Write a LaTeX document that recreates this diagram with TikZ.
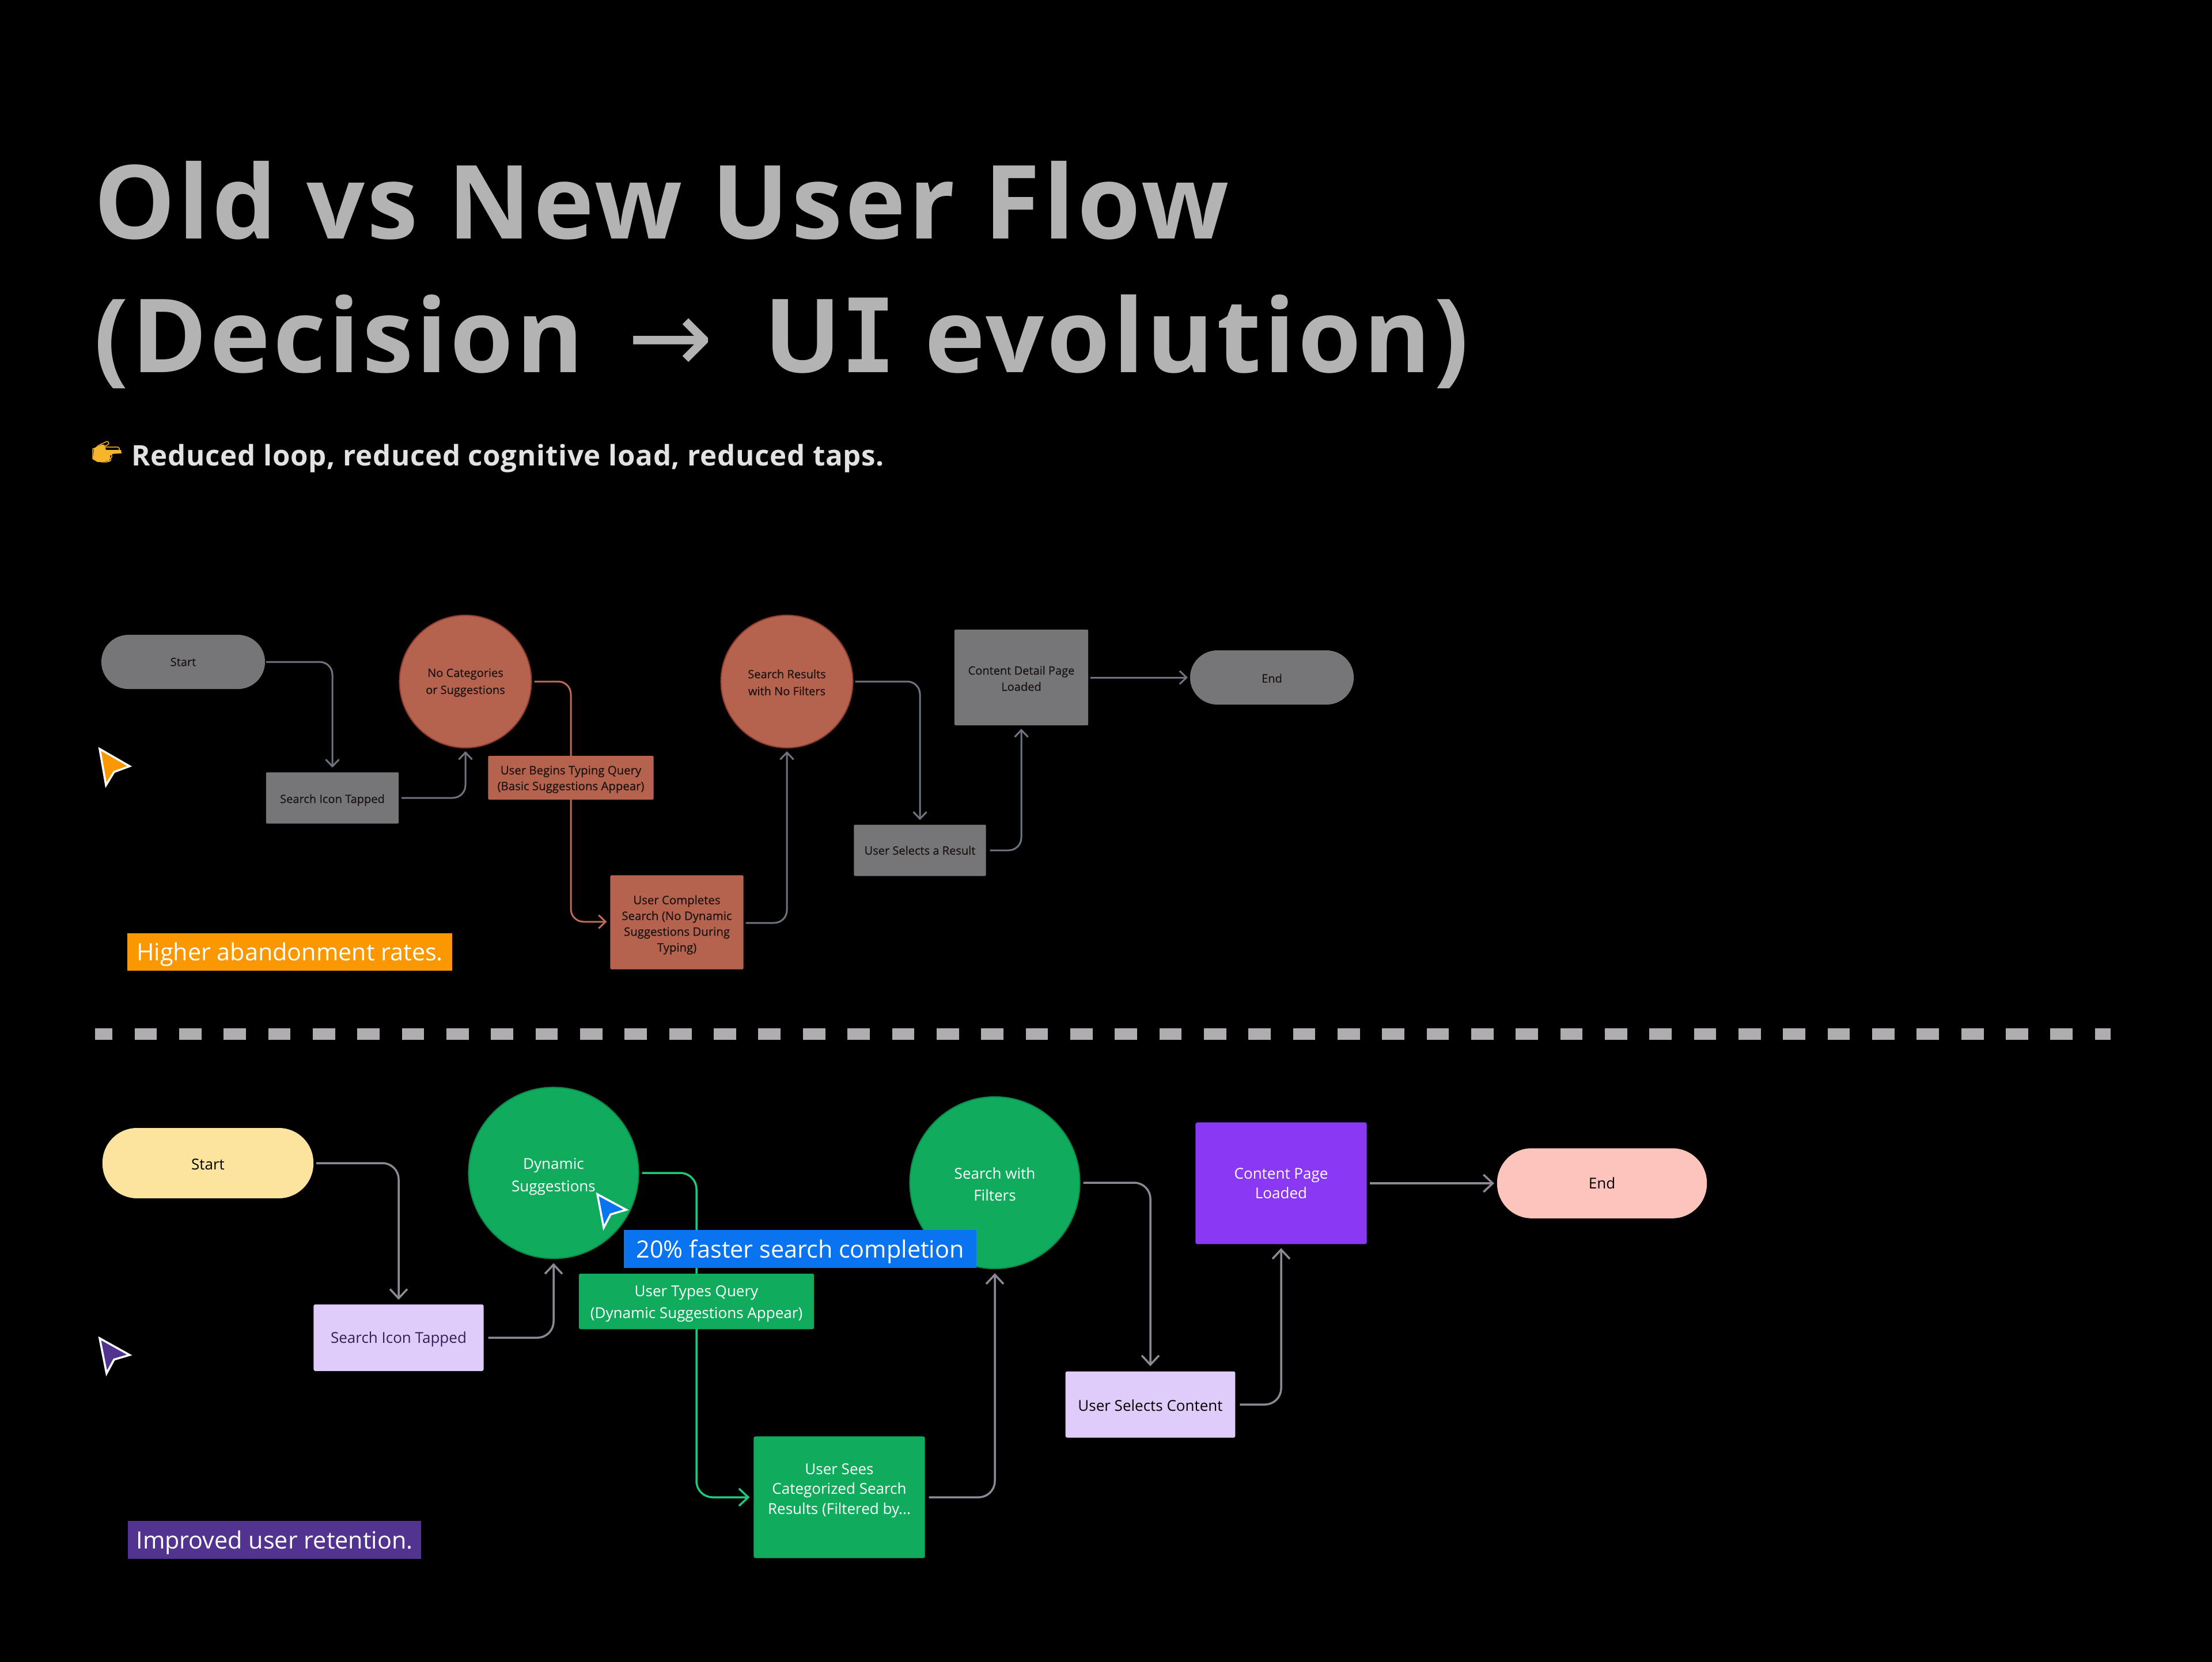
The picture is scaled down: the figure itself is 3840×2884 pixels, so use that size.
\documentclass[tikz,border=0pt]{standalone}
\usepackage{fontspec}
\setmainfont{Open Sans}
\newfontfamily\serifI{DejaVu Sans Mono}
\newfontfamily\arrowfont{DejaVu Sans}
\newfontfamily\emojifont{Noto Emoji}
\newfontfamily\titlefont{Open Sans}[LetterSpace=2.7]
\newfontfamily\subfont{Open Sans}[LetterSpace=1.5]
\newfontfamily\semifont{Open Sans}[FakeBold=0.6]
\usetikzlibrary{arrows.meta,shapes.geometric}
\pgfdeclarelayer{front}
\pgfsetlayers{main,front}
\definecolor{oldgray}{HTML}{767678}
\definecolor{oldred}{HTML}{B5624F}
\definecolor{oldredrim}{HTML}{8E3A2C}
\definecolor{oldtext}{HTML}{1C1412}
\definecolor{oldline}{HTML}{6F7480}
\definecolor{oldredline}{HTML}{C06A5A}
\definecolor{newgreen}{HTML}{10AB5C}
\definecolor{greenrim}{HTML}{0B8A49}
\definecolor{greenline}{HTML}{1FC87A}
\definecolor{newline}{HTML}{8C8894}
\definecolor{lilac}{HTML}{E0CCFA}
\definecolor{cream}{HTML}{FCE39E}
\definecolor{pinkend}{HTML}{FDC4BB}
\definecolor{violet}{HTML}{8B38F5}
\definecolor{bluetag}{HTML}{0A73F0}
\definecolor{orangetag}{HTML}{FB9700}
\definecolor{purpletag}{HTML}{533390}
\definecolor{titlegray}{HTML}{B3B3B3}
\definecolor{subgray}{HTML}{E2E2E2}
\definecolor{dashgray}{HTML}{B0ADB0}
\definecolor{emojigold}{HTML}{F7B52C}
\newcommand{\tdn}[1]{\rule{0pt}{\dimexpr 0.78em+2\dimexpr #1pt\relax\relax}}
\newcommand{\tup}[1]{\rule[-\dimexpr 0.22em+2\dimexpr #1pt\relax\relax]{0pt}{0pt}}
\tikzset{
  x=0.01cm,y=-0.01cm,
  txt/.style={align=center,inner sep=0pt,outer sep=0pt},
  oldpill/.style={txt,draw=none,fill=oldgray,rounded corners=0.47cm,text=oldtext,font=\semifont\fontsize{5.7}{6}\selectfont},
  oldbox/.style={txt,draw=none,fill=oldgray,rounded corners=0.02cm,text=oldtext,font=\semifont\fontsize{5.7}{8.0}\selectfont},
  oldredbox/.style={txt,draw=none,fill=oldred,rounded corners=0.02cm,text=oldtext,font=\semifont\fontsize{5.8}{7.8}\selectfont},
  oldcirc/.style={txt,ellipse,fill=oldred,draw=oldredrim,line width=0.02cm,text=oldtext,font=\semifont\fontsize{5.7}{8.4}\selectfont},
  newpill/.style={txt,draw=none,rounded corners=0.6cm,text=black,font=\fontsize{7.4}{8}\selectfont},
  newbox/.style={txt,draw=none,rounded corners=0.03cm,font=\fontsize{7.4}{9.8}\selectfont},
  newcirc/.style={txt,ellipse,fill=newgreen,draw=greenrim,line width=0.02cm,text=white,font=\fontsize{7.4}{11}\selectfont},
  tag/.style={txt,draw=none,text=white},
  oldconn/.style={-{Straight Barb[length=0.12cm,width=0.23cm,line width=0.03cm]},line width=0.03cm,rounded corners=0.22cm},
  newconn/.style={-{Straight Barb[length=0.16cm,width=0.30cm,line width=0.035cm]},line width=0.035cm,rounded corners=0.28cm},
  curs/.style={draw=white,line width=0.035cm,line join=miter},
}
\begin{document}
\begin{tikzpicture}
\useasboundingbox (0,0) rectangle (3840,2884);
\fill[black] (-20,-20) rectangle (3860,2904);
% title
\node[anchor=base west,inner sep=0pt,text=titlegray,font=\titlefont\bfseries\fontsize{50.5}{50}\selectfont] (t1) at (163,414) {Old vs New User Flow};
\node[anchor=base west,inner sep=0pt,text=titlegray,font=\titlefont\bfseries\fontsize{50.5}{50}\selectfont] (t2) at (163,646) {(Decision\hspace{7.2pt} {\arrowfont\mdseries →}\hspace{10.5pt} U{\serifI\scalebox{.88}[1]{I}} evolution)};
\fill[emojigold] (163,778) -- (176,772) -- (181,772) -- (184,781) -- (210,781) -- (211,787) -- (192,788) -- (190,800) -- (169,802) -- (162,796) -- cycle;
\node[anchor=base west,inner sep=0pt,text=emojigold,font=\emojifont\fontsize{11.5}{12}\selectfont] (emo) at (158,798) {👉};
\node[anchor=base west,inner sep=0pt,text=subgray,font=\subfont\bfseries\fontsize{14}{14}\selectfont] (sub) at (228,808) {Reduced loop, reduced cognitive load, reduced taps.};
% old flow
\node[oldpill,minimum width=2.84cm,minimum height=0.94cm] (os) at (318,1149) {Start};
\node[oldcirc,minimum width=2.29cm,minimum height=2.30cm] (onc) at (808,1183) {\tdn{0.4}No Categories\\or Suggestions};
\node[oldbox,minimum width=2.30cm,minimum height=0.89cm] (osi) at (577,1385) {\tdn{1.0}Search Icon Tapped};
\begin{pgfonlayer}{front}
\node[oldredbox,minimum width=2.87cm,minimum height=0.76cm] (ob) at (991,1350) {\tdn{0.7}User Begins Typing Query\\(Basic Suggestions Appear)};
\end{pgfonlayer}
\node[oldredbox,minimum width=2.31cm,minimum height=1.63cm] (oc) at (1175,1601) {\tdn{1.2}User Completes\\Search (No Dynamic\\Suggestions During\\Typing)};
\node[oldcirc,minimum width=2.29cm,minimum height=2.30cm] (osr) at (1366,1183) {\tdn{0.4}Search Results\\with No Filters};
\node[oldbox,minimum width=2.32cm,minimum height=1.66cm] (ocd) at (1773,1176) {\tdn{0.4}Content Detail Page\\Loaded};
\node[oldpill,minimum width=2.84cm,minimum height=0.94cm] (oe) at (2208,1176) {\tdn{0.3}End};
\node[oldbox,minimum width=2.29cm,minimum height=0.89cm] (ous) at (1597,1476) {User Selects a Result};
\draw[oldconn,draw=oldline] (os.east) ++(2,0) -| ([yshift=0.08cm]osi.north);
\draw[oldconn,draw=oldline] (osi.east) ++(5,0) -| ([yshift=-0.06cm]onc.south);
\draw[oldconn,draw=oldredline] (onc.east) ++(5,0) -| (ob.center) |- ([xshift=-0.06cm,yshift=0.01cm]oc.west);
\draw[oldconn,draw=oldline] (oc.east) ++(4,1) -| ([yshift=-0.06cm]osr.south);
\draw[oldconn,draw=oldline] (osr.east) ++(4,0) -| ([yshift=0.08cm]ous.north);
\draw[oldconn,draw=oldline] (ous.east) ++(7,0) -| ([yshift=-0.06cm]ocd.south);
\draw[oldconn,draw=oldline] (ocd.east) ++(4,0) -- ([xshift=-0.04cm]oe.west);
\node[tag,fill=orangetag,minimum width=5.64cm,minimum height=0.65cm,font=\fontsize{11.75}{12}\selectfont] (ot) at (503,1652) {\tdn{1.2}Higher abandonment rates.};
\filldraw[curs,fill=orangetag] (173,1300) -- (225,1330) -- (198,1340) -- (184,1363) -- cycle;
% separator
\coordinate (dl) at (165,1795); \coordinate (dr) at (3664,1795);
\draw[dashgray,line width=0.2cm,dash pattern=on 0.387cm off 0.386cm,dash phase=0.087cm] (dl) -- (dr);
% new flow
\node[newpill,fill=cream,minimum width=3.66cm,minimum height=1.22cm] (ns) at (361,2019) {\tdn{0.5}Start};
\node[newcirc,minimum width=2.95cm,minimum height=2.97cm] (nd) at (961,2036) {\tdn{1.6}Dynamic\\Suggestions};
\node[newbox,fill=lilac,text=purpletag!60!black,minimum width=2.95cm,minimum height=1.155cm] (nsi) at (692,2322) {\tdn{0.7}Search Icon Tapped};
\node[newcirc,minimum width=2.95cm,minimum height=2.98cm] (nf) at (1727,2053) {\tdn{0.7}Search with\\Filters};
\node[newbox,fill=violet,text=white,minimum width=2.97cm,minimum height=2.11cm] (ncp) at (2224,2054) {Content Page\\Loaded};
\node[newpill,fill=pinkend,minimum width=3.64cm,minimum height=1.215cm] (ne) at (2781,2054) {End};
\node[newbox,fill=lilac,text=black,minimum width=2.945cm,minimum height=1.15cm] (nus) at (1997,2438) {\tdn{0.3}User Selects Content};
\node[newbox,fill=newgreen,text=white,minimum width=2.97cm,minimum height=2.11cm] (nu) at (1457,2599) {User Sees\\Categorized Search\\Results (Filtered by...\tup{3.4}};
\begin{pgfonlayer}{front}
\node[newbox,fill=newgreen,text=white,minimum width=4.08cm,minimum height=0.965cm,font=\fontsize{7.4}{11}\selectfont] (nt) at (1209,2259) {\tdn{1}User Types Query\\(Dynamic Suggestions Appear)};
\end{pgfonlayer}
\draw[newconn,draw=newline] (ns.east) ++(5,0) -| ([yshift=0.08cm]nsi.north);
\draw[newconn,draw=newline] (nsi.east) ++(8,0) -| ([yshift=-0.08cm]nd.south);
\draw[newconn,draw=greenline] (nd.east) ++(6,0) -| (nt.center) |- ([xshift=-0.07cm]nu.west);
\draw[newconn,draw=newline] (nu.east) ++(7,0) -| ([yshift=-0.08cm]nf.south);
\draw[newconn,draw=newline] (nf.east) ++(6,0) -| ([yshift=0.09cm]nus.north);
\draw[newconn,draw=newline] (nus.east) ++(8,0) -| ([yshift=-0.07cm]ncp.south);
\draw[newconn,draw=newline] (ncp.east) ++(5,0) -- ([xshift=-0.05cm]ne.west);
\begin{pgfonlayer}{front}
\node[tag,fill=bluetag,minimum width=6.12cm,minimum height=0.66cm,font=\fontsize{11.75}{12}\selectfont] (nb) at (1389,2168) {\tdn{1.2}20\% faster search completion};
\end{pgfonlayer}
\node[tag,fill=purpletag,minimum width=5.09cm,minimum height=0.655cm,font=\fontsize{11.75}{12}\selectfont] (npt) at (476.5,2673) {\tdn{1.2}Improved user retention.};
\filldraw[curs,fill=bluetag] (1037,2073) -- (1087,2100) -- (1060,2108) -- (1048,2131) -- cycle;
\filldraw[curs,fill=purpletag] (173,2323) -- (225,2352) -- (198,2360) -- (185,2384) -- cycle;
\end{tikzpicture}
\end{document}
